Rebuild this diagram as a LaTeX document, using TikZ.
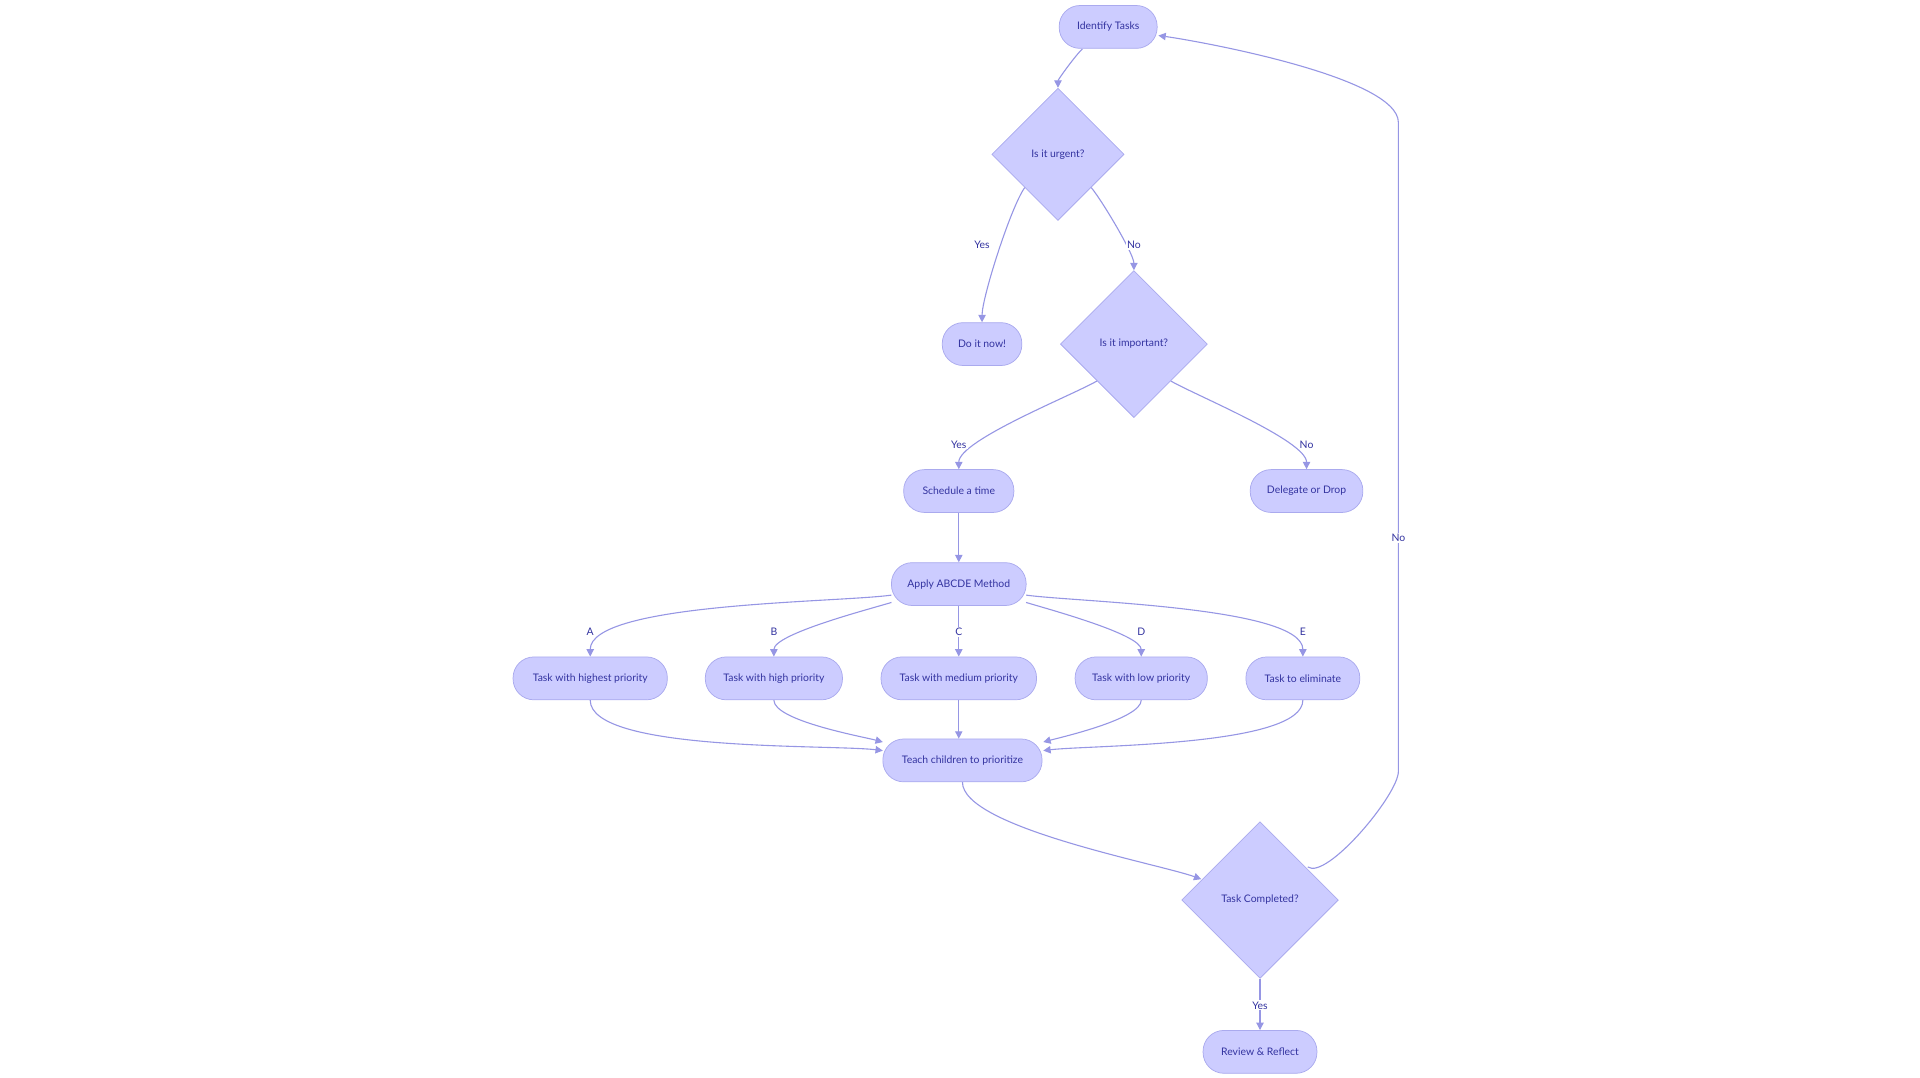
\documentclass[tikz,border=0pt]{standalone}
\usepackage{fontspec}
\setmainfont{Lato}
\usetikzlibrary{shapes.geometric,arrows.meta}
\definecolor{nfill}{RGB}{204,204,255}
\definecolor{nborder}{RGB}{170,170,238}
\definecolor{eline}{RGB}{150,150,228}
\definecolor{ntext}{RGB}{51,51,160}
\begin{document}
\begin{tikzpicture}[x=1pt,y=-1pt,
  every node/.style={text=ntext,font=\fontsize{8.5}{10}\selectfont},
  pill/.style={rounded corners=17pt,draw=nborder,fill=nfill,minimum height=35pt,inner sep=0pt,line width=0.6pt},
  dia/.style={diamond,draw=nborder,fill=nfill,inner sep=0pt,line width=0.6pt},
  edge/.style={draw=eline,line width=0.9pt,looseness=0.45,-{Triangle[length=6pt,width=6pt]}},
  lbl/.style={fill=white,inner sep=1pt}]
\useasboundingbox (0,0) rectangle (1568,880);
\node[pill,minimum width=80pt] (it) at (905,22) {Identify Tasks};
\node[dia,minimum width=108pt,minimum height=108pt] (u) at (864,126) {Is it urgent?};
\node[pill,minimum width=65pt] (dn) at (802,281) {Do it now!};
\node[dia,minimum width=120pt,minimum height=120pt] (im) at (926,281) {Is it important?};
\node[pill,minimum width=90pt] (st) at (783,401) {Schedule a time};
\node[pill,minimum width=92pt] (dd) at (1067,401) {Delegate or Drop};
\node[pill,minimum width=110pt] (ab) at (783,477) {Apply ABCDE Method};
\node[pill,minimum width=126pt] (ta) at (482,554) {Task with highest priority};
\node[pill,minimum width=112pt] (tb) at (632,554) {Task with high priority};
\node[pill,minimum width=127pt] (tc) at (783,554) {Task with medium priority};
\node[pill,minimum width=108pt] (td) at (932,554) {Task with low priority};
\node[pill,minimum width=93pt] (te) at (1064,554) {Task to eliminate};
\node[pill,minimum width=130pt] (tch) at (786,621) {Teach children to prioritize};
\node[dia,minimum width=128pt,minimum height=128pt] (tcmp) at (1029,735) {Task Completed?};
\node[pill,minimum width=93pt] (rr) at (1029,859) {Review \& Reflect};

\coordinate (a0) at (884,40);
\draw[edge] (a0) to[out=-140,in=90] (u.north);
\draw[edge] (u.south west) to[out=-125,in=90] (dn.north);
\draw[edge] (u.south east) to[out=-50,in=90] (im.north);
\draw[edge] (im.south west) to[out=-150,in=90] (st.north);
\draw[edge] (im.south east) to[out=-30,in=90] (dd.north);
\draw[edge] (st) -- (ab);
\coordinate (abl) at (728,486); \coordinate (abl2) at (728,492);
\coordinate (abr) at (838,486); \coordinate (abr2) at (838,492);
\draw[edge] (abl) to[out=-172,in=90] (ta.north);
\draw[edge] (abl2) to[out=-163,in=90] (tb.north);
\draw[edge] (ab) -- (tc);
\draw[edge] (abr2) to[out=-17,in=90] (td.north);
\draw[edge] (abr) to[out=-8,in=90] (te.north);
\coordinate (tl1) at (721,613); \coordinate (tl2) at (721,606);
\coordinate (tr1) at (852,613); \coordinate (tr2) at (852,606);
\draw[edge] (ta.south) to[out=-90,in=173] (tl1);
\draw[edge] (tb.south) to[out=-90,in=165] (tl2);
\draw[edge] (tc.south) -- (tc.south |- tch.north);
\draw[edge] (td.south) to[out=-90,in=15] (tr2);
\draw[edge] (te.south) to[out=-90,in=7] (tr1);
\coordinate (tq) at (981,718);
\draw[edge] (tch.south) to[out=-90,in=160] (tq);
\draw[edge] (tcmp) -- (rr);
\coordinate (s0) at (1068,708);
\coordinate (loop1) at (1142,630);
\coordinate (loop2) at (1142,100);
\coordinate (itr) at (946,29);
\draw[edge] (s0) to[out=-35,in=-90] (loop1) -- (loop2) to[out=90,in=-8] (itr);

\node[lbl] (l1) at (802,200) {Yes};
\node[lbl] (l2) at (926,200) {No};
\node[lbl] (l3) at (783,363) {Yes};
\node[lbl] (l4) at (1067,363) {No};
\node[lbl] (la) at (482,516) {A};
\node[lbl] (lb) at (632,516) {B};
\node[lbl] (lc) at (783,516) {C};
\node[lbl] (ld) at (932,516) {D};
\node[lbl] (le) at (1064,516) {E};
\node[lbl] (l5) at (1142,439) {No};
\node[lbl] (l6) at (1029,821) {Yes};
\end{tikzpicture}
\end{document}
